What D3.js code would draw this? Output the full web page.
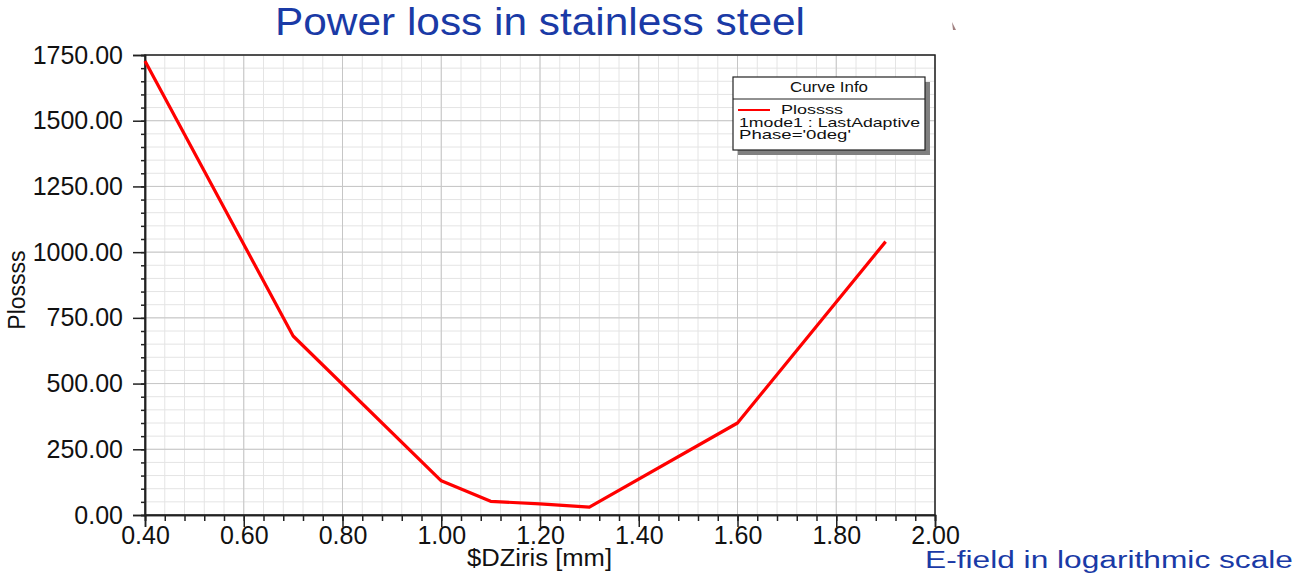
<!DOCTYPE html>
<html><head><meta charset="utf-8">
<script src="https://cdn.jsdelivr.net/npm/d3@7"></script>
<style>body{margin:0;background:#fff;} svg{display:block;font-family:"Liberation Sans",Arial,sans-serif;}</style>
</head><body>
<svg id="c" width="1299" height="576"></svg>
<script>
const xValues = [0.40, 0.70, 1.00, 1.10, 1.20, 1.30, 1.60, 1.90];
const plossValues = [1727, 681, 130, 52, 42, 30, 350, 1040];
const xTickValues = [0.40, 0.60, 0.80, 1.00, 1.20, 1.40, 1.60, 1.80, 2.00];
const yTickValues = [0, 250, 500, 750, 1000, 1250, 1500, 1750];
const legendLines = ["Plossss", "1mode1 : LastAdaptive", "Phase='0deg'"];

const svg = d3.select("#c");
const L = 145, R = 935, T = 55, B = 515;
const x = d3.scaleLinear().domain([0.4, 2.0]).range([L, R]);
const y = d3.scaleLinear().domain([0, 1750]).range([B, T]);

const xMinor = d3.range(0, 41).map(i => 0.4 + i * 0.04);
const yMinor = d3.range(0, 36).map(i => i * 50);

// grid
const g = svg.append("g");
g.selectAll(".gxm").data(xMinor).enter().append("line")
  .attr("x1", d => x(d)).attr("x2", d => x(d)).attr("y1", T).attr("y2", B)
  .attr("stroke", "#e4e4e4").attr("stroke-width", 1);
g.selectAll(".gym").data(yMinor).enter().append("line")
  .attr("y1", d => y(d)).attr("y2", d => y(d)).attr("x1", L).attr("x2", R)
  .attr("stroke", "#e4e4e4").attr("stroke-width", 1);
g.selectAll(".gx").data(xTickValues).enter().append("line")
  .attr("x1", d => x(d)).attr("x2", d => x(d)).attr("y1", T).attr("y2", B)
  .attr("stroke", "#c6c6c6").attr("stroke-width", 1);
g.selectAll(".gy").data(yTickValues).enter().append("line")
  .attr("y1", d => y(d)).attr("y2", d => y(d)).attr("x1", L).attr("x2", R)
  .attr("stroke", "#c6c6c6").attr("stroke-width", 1);

// frame
svg.append("rect").attr("x", L).attr("y", T).attr("width", R - L).attr("height", B - T)
  .attr("fill", "none").attr("stroke", "#222").attr("stroke-width", 1.5);

// axes
const xAxis = d3.axisBottom(x).tickValues(xTickValues).tickFormat(d3.format(".2f")).tickSize(12).tickPadding(-1);
const xAxisMinor = d3.axisBottom(x).tickValues(xMinor).tickFormat("").tickSize(6);
const yAxis = d3.axisLeft(y).tickValues(yTickValues).tickFormat(d3.format(".2f")).tickSize(12).tickPadding(10);
const yAxisMinor = d3.axisLeft(y).tickValues(yMinor).tickFormat("").tickSize(4);

function styleAxis(sel) {
  sel.select(".domain").attr("stroke", "#222").attr("stroke-width", 1.5);
  sel.selectAll(".tick line").attr("stroke", "#222").attr("stroke-width", 1.5);
  sel.selectAll("text").attr("fill", "#111").style("font-size", "25px");
}
svg.append("g").attr("transform", `translate(0,${B})`).call(xAxisMinor).call(styleAxis);
svg.append("g").attr("transform", `translate(0,${B})`).call(xAxis).call(styleAxis)
  .selectAll("text").attr("dy", "0.71em");
svg.append("g").attr("transform", `translate(${L},0)`).call(yAxisMinor).call(styleAxis);
svg.append("g").attr("transform", `translate(${L},0)`).call(yAxis).call(styleAxis);

// line
svg.append("path").datum(xValues.map((v, i) => [v, plossValues[i]]))
  .attr("d", d3.line().x(d => x(d[0])).y(d => y(d[1])))
  .attr("fill", "none").attr("stroke", "#ff0000").attr("stroke-width", 3.2).attr("stroke-linejoin", "round");

// titles
svg.append("text").attr("x", 275).attr("y", 35)
  .attr("textLength", 530).attr("lengthAdjust", "spacingAndGlyphs")
  .attr("fill", "#1a3aa6").style("font-size", "38px").text("Power loss in stainless steel");
svg.append("text").attr("x", 467).attr("y", 566)
  .attr("textLength", 145).attr("lengthAdjust", "spacingAndGlyphs")
  .attr("fill", "#111").style("font-size", "23px").text("$DZiris [mm]");
svg.append("text").attr("transform", "translate(25,290) rotate(-90)").attr("text-anchor", "middle")
  .attr("fill", "#111").style("font-size", "23px").text("Plossss");
svg.append("text").attr("x", 925).attr("y", 568)
  .attr("textLength", 368).attr("lengthAdjust", "spacingAndGlyphs")
  .attr("fill", "#1a3aa6").style("font-size", "23px").text("E-field in logarithmic scale");

// small mark top right
svg.append("path").attr("d", "M952,22 L953,30 L956,30 Z").attr("fill", "#a08080");

// legend
const lg = svg.append("g");
lg.append("rect").attr("x", 738).attr("y", 82).attr("width", 192).attr("height", 73).attr("fill", "#808080");
lg.append("rect").attr("x", 733).attr("y", 77).attr("width", 192).attr("height", 73)
  .attr("fill", "#fff").attr("stroke", "#222").attr("stroke-width", 1.2);
lg.append("line").attr("x1", 733).attr("x2", 925).attr("y1", 99).attr("y2", 99).attr("stroke", "#222").attr("stroke-width", 1);
lg.append("text").attr("x", 790).attr("y", 92)
  .attr("textLength", 78).attr("lengthAdjust", "spacingAndGlyphs")
  .attr("fill", "#111").style("font-size", "14px").text("Curve Info");
lg.append("line").attr("x1", 738).attr("x2", 770).attr("y1", 110).attr("y2", 110).attr("stroke", "#ff0000").attr("stroke-width", 2);
const legendX = [781, 739, 739];
const legendW = [62, 181, 112];
const legendY = [114, 127, 139];
lg.selectAll(".lt").data(legendLines).enter().append("text")
  .attr("x", (d, i) => legendX[i]).attr("y", (d, i) => legendY[i])
  .attr("textLength", (d, i) => legendW[i]).attr("lengthAdjust", "spacingAndGlyphs")
  .attr("fill", "#111").style("font-size", "13.5px").text(d => d);
</script>
</body></html>
